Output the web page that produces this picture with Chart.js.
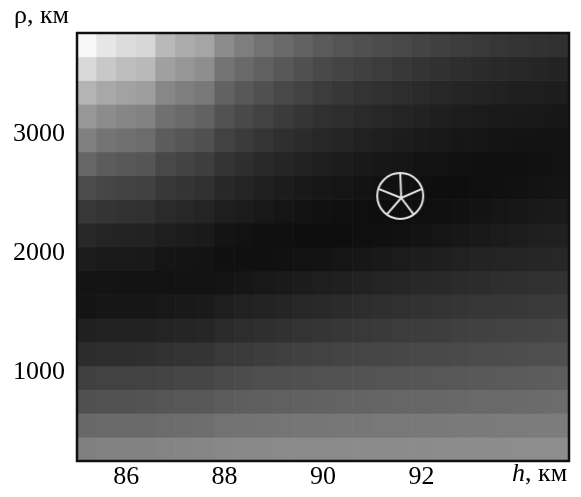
<!DOCTYPE html>
<html>
<head>
<meta charset="utf-8">
<script src="https://cdn.jsdelivr.net/npm/chart.js@4"></script>
<style>
  body { margin: 0; background: #fff; }
  #wrap { position: relative; width: 581px; height: 497px; }
  .unit { position: absolute; font-family: "Liberation Serif", serif; font-size: 26px; color: #000; white-space: nowrap; }
</style>
</head>
<body>
<div id="wrap">
  <canvas id="heatChart"></canvas>
  <div class="unit" style="left:14px; top:0px;">ρ, км</div>
  <div class="unit" style="left:512px; top:458px;"><i>h</i>, км</div>
</div>
<script>
// column centres (h, km) and row edges (rho, km)
const hCenters = [85.2, 85.6, 86.0, 86.4, 86.8, 87.2, 87.6, 88.0, 88.4, 88.8, 89.2, 89.6, 90.0,
  90.4, 90.8, 91.2, 91.6, 92.0, 92.4, 92.8, 93.2, 93.6, 94.0, 94.4, 94.8];
const rhoEdges = [250, 450, 650, 850, 1050, 1250, 1450, 1650, 1850, 2050, 2250, 2450, 2650,
  2850, 3050, 3250, 3450, 3650, 3850];
const hTicks = [86, 88, 90, 92];
const rhoTicks = [1000, 2000, 3000];
const marker = { h: 91.57, rho: 2480 };

// brightness 0..255, rows listed from top (rho 3850) to bottom (rho 250)
const shade = [
  [248, 230, 220, 215, 185, 172, 165, 140, 126, 114, 106, 98, 90, 84, 80, 76, 72, 68, 64, 60, 57, 54, 52, 50, 48],
  [216, 200, 190, 185, 160, 150, 142, 116, 105, 96, 88, 80, 73, 68, 64, 60, 56, 52, 49, 46, 43, 41, 39, 37, 35],
  [180, 168, 162, 158, 135, 126, 120, 98, 88, 80, 72, 66, 60, 55, 51, 48, 45, 42, 39, 37, 35, 33, 31, 30, 29],
  [152, 140, 134, 130, 112, 105, 98, 82, 73, 66, 59, 53, 48, 45, 42, 39, 36, 34, 31, 29, 27, 26, 25, 24, 23],
  [128, 116, 112, 108, 92, 86, 80, 66, 59, 53, 47, 43, 39, 36, 33, 30, 28, 26, 24, 22, 21, 20, 19, 19, 19],
  [102, 92, 88, 85, 72, 67, 62, 51, 46, 41, 37, 33, 30, 28, 25, 23, 21, 19, 18, 17, 16, 16, 16, 17, 18],
  [76, 70, 67, 65, 56, 52, 48, 40, 36, 32, 28, 25, 23, 21, 19, 17, 16, 15, 14, 14, 15, 16, 17, 19, 20],
  [56, 52, 50, 48, 42, 39, 36, 30, 27, 24, 21, 19, 17, 16, 15, 14, 14, 15, 16, 17, 19, 21, 23, 25, 26],
  [40, 36, 35, 34, 30, 28, 26, 20, 18, 16, 15, 14, 14, 14, 15, 16, 17, 19, 21, 23, 25, 27, 29, 31, 32],
  [28, 26, 26, 25, 21, 20, 19, 16, 16, 16, 17, 18, 19, 21, 23, 25, 27, 29, 31, 33, 35, 36, 37, 38, 39],
  [20, 20, 19, 19, 18, 18, 18, 20, 22, 24, 26, 28, 30, 32, 34, 36, 38, 40, 41, 43, 44, 46, 47, 48, 49],
  [20, 22, 22, 22, 24, 25, 26, 30, 33, 35, 37, 39, 41, 43, 45, 47, 48, 50, 51, 53, 54, 55, 56, 57, 58],
  [32, 34, 34, 34, 36, 37, 38, 42, 45, 47, 49, 51, 53, 55, 57, 58, 60, 61, 62, 64, 65, 66, 67, 68, 69],
  [44, 46, 46, 47, 50, 51, 52, 57, 59, 61, 63, 65, 66, 68, 69, 70, 71, 72, 73, 74, 75, 76, 77, 78, 79],
  [64, 66, 66, 66, 68, 69, 70, 74, 76, 78, 79, 80, 81, 82, 83, 84, 85, 86, 87, 88, 89, 90, 91, 92, 93],
  [80, 82, 82, 83, 86, 87, 88, 92, 94, 95, 96, 97, 98, 99, 100, 101, 102, 102, 103, 104, 105, 105, 106, 107, 108],
  [104, 106, 106, 106, 108, 109, 110, 114, 115, 116, 117, 118, 118, 119, 119, 120, 120, 121, 121, 122, 122, 123, 123, 124, 124],
  [128, 130, 130, 130, 132, 133, 134, 136, 137, 137, 138, 138, 138, 138, 139, 139, 139, 139, 140, 140, 140, 140, 141, 141, 141]
];

const serif = { family: '"Liberation Serif", "Times New Roman", serif', size: 26 };

function grey(v) {
  return 'rgb(' + v + ',' + v + ',' + v + ')';
}

function makeMarker() {
  const c = document.createElement('canvas');
  c.width = 52;
  c.height = 52;
  const g = c.getContext('2d');
  const r = 23;
  g.strokeStyle = '#e6e6e6';
  g.lineWidth = 2;
  g.beginPath();
  g.arc(26, 26, r, 0, Math.PI * 2);
  g.stroke();
  for (let k = 0; k < 5; k++) {
    const a = -Math.PI / 2 + k * 2 * Math.PI / 5;
    g.beginPath();
    g.moveTo(27, 28);
    g.lineTo(26 + r * Math.cos(a), 26 + r * Math.sin(a));
    g.stroke();
  }
  return c;
}

const datasets = shade.map((row, r) => {
  const lo = rhoEdges[shade.length - 1 - r];
  const hi = rhoEdges[shade.length - r];
  return {
    type: 'bar',
    order: 1,
    data: hCenters.map(h => ({ x: h, y: [lo, hi] })),
    backgroundColor: row.map(grey),
    borderWidth: 0,
    barPercentage: 1,
    categoryPercentage: 1,
    grouped: false
  };
});

datasets.push({
  type: 'scatter',
  order: 0,
  data: [{ x: marker.h, y: marker.rho }],
  pointStyle: makeMarker(),
  pointRadius: 26
});

const framePlugin = {
  id: 'frame',
  afterDraw(chart) {
    const a = chart.chartArea;
    const ctx = chart.ctx;
    ctx.save();
    ctx.strokeStyle = '#111';
    ctx.lineWidth = 2.5;
    ctx.strokeRect(a.left, a.top, a.right - a.left, a.bottom - a.top);
    ctx.restore();
  }
};

new Chart(document.getElementById('heatChart'), {
  type: 'bar',
  data: { datasets: datasets },
  plugins: [framePlugin],
  options: {
    responsive: true,
    maintainAspectRatio: false,
    animation: false,
    layout: { autoPadding: false, padding: { top: 33, right: 12, left: 0, bottom: 0 } },
    plugins: {
      legend: { display: false },
      tooltip: { enabled: false }
    },
    scales: {
      x: {
        type: 'linear',
        min: 85,
        max: 95,
        offset: false,
        grid: { display: false },
        border: { display: false },
        afterBuildTicks: s => { s.ticks = hTicks.map(v => ({ value: v })); },
        afterFit: s => { s.height = 36; },
        ticks: { color: '#000', font: serif, padding: -7, maxRotation: 0 }
      },
      y: {
        type: 'linear',
        min: 250,
        max: 3850,
        grid: { display: false },
        border: { display: false },
        afterBuildTicks: s => { s.ticks = rhoTicks.map(v => ({ value: v })); },
        afterFit: s => { s.width = 77; },
        ticks: { color: '#000', font: serif, padding: 4, callback: v => String(v) }
      }
    }
  }
});
</script>
</body>
</html>
